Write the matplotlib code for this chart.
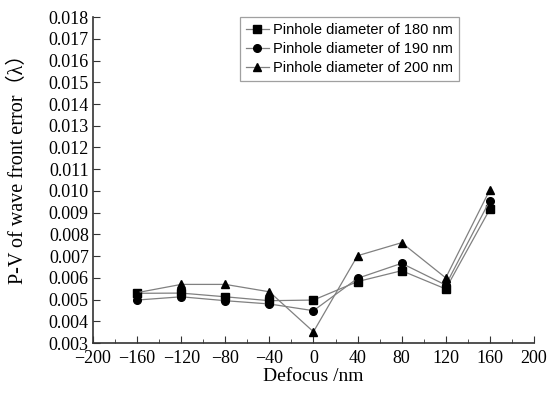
import numpy as np
import matplotlib
matplotlib.use('Agg')
import matplotlib.pyplot as plt
from matplotlib.ticker import MultipleLocator

plt.rcParams['font.family'] = ['Liberation Serif', 'Noto Sans CJK SC', 'DejaVu Sans']

defocus = [-160, -120, -80, -40, 0, 40, 80, 120, 160]
pv_180 = [0.00529, 0.00530, 0.00513, 0.00495, 0.00498, 0.00583, 0.00633, 0.00549, 0.00916]
pv_190 = [0.00498, 0.00513, 0.00495, 0.00480, 0.00449, 0.00598, 0.00667, 0.00567, 0.00956]
pv_200 = [0.00532, 0.00570, 0.00570, 0.00536, 0.00352, 0.00702, 0.00762, 0.00600, 0.01005]
labels = ['Pinhole diameter of 180 nm', 'Pinhole diameter of 190 nm', 'Pinhole diameter of 200 nm']

fig = plt.figure(figsize=(5.55, 3.98), dpi=100)
ax = fig.add_axes([0.1676, 0.138, 0.7944, 0.819])

for y, m, lab in zip([pv_180, pv_190, pv_200], ['s', 'o', '^'], labels):
    ax.plot(defocus, y, color='#808080', lw=0.9, marker=m, ms=5.5,
            mfc='black', mec='black', label=lab)

ax.set_xlim(-200, 200)
ax.set_ylim(0.003, 0.018)
ax.xaxis.set_minor_locator(MultipleLocator(20))
ax.yaxis.set_major_locator(MultipleLocator(0.001))
ax.yaxis.set_major_formatter(matplotlib.ticker.FormatStrFormatter('%.3f'))
ax.set_xticks(np.arange(-200, 201, 40))
ax.set_xticklabels(['\u2212' + str(abs(v)) if v < 0 else str(v) for v in range(-200, 201, 40)])

for s in ['top', 'right']:
    ax.spines[s].set_visible(False)
for s in ['left', 'bottom']:
    ax.spines[s].set_color('#333333')
    ax.spines[s].set_linewidth(1.2)
ax.tick_params(direction='in', which='major', length=5, labelsize=13, color='#333333')
ax.tick_params(direction='in', which='minor', length=3, color='#333333')
ax.tick_params(axis='x', pad=5)
ax.tick_params(axis='y', pad=3)

ax.set_xlabel('Defocus /nm', fontsize=14, labelpad=1)
ax.set_ylabel('P-V of wave front error\uff08\u03bb\uff09', fontsize=14.5)
ax.yaxis.set_label_coords(-0.148, 0.55)

leg = ax.legend(loc='upper left', bbox_to_anchor=(0.333, 1.0), borderaxespad=0,
                frameon=True, fancybox=False, edgecolor='#888888',
                prop={'family': 'Liberation Sans', 'size': 10.5},
                handlelength=1.6, borderpad=0.4, labelspacing=0.35, handletextpad=0.3)
leg.get_frame().set_linewidth(0.9)

fig.savefig('out.png', dpi=100)
